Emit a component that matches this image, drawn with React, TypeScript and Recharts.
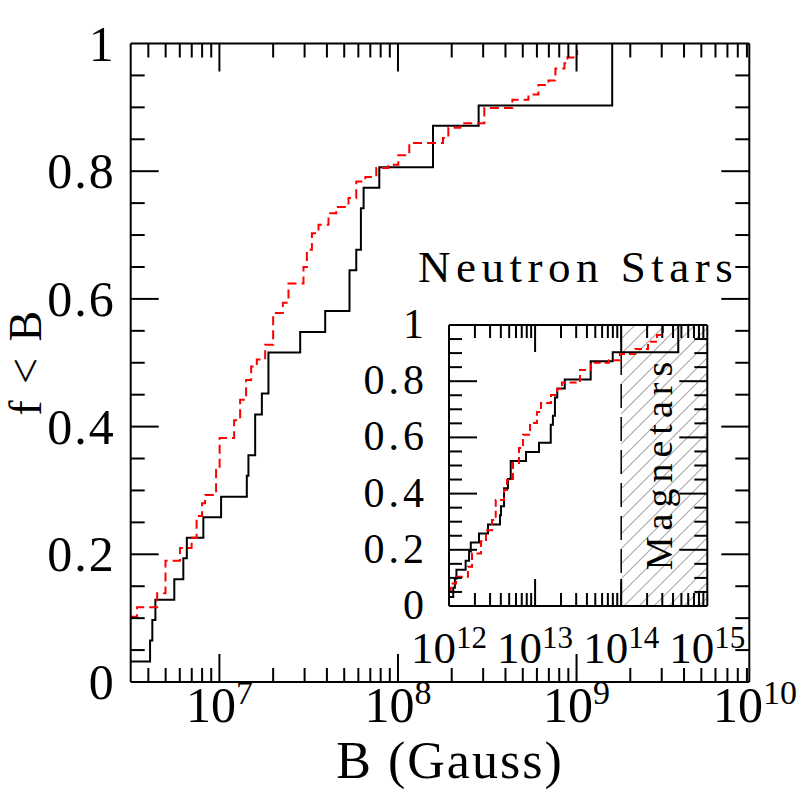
import { LineChart, Line, XAxis, YAxis, ReferenceArea, ReferenceLine } from "recharts";

const FONT = "'Liberation Serif', 'DejaVu Serif', serif";

// main panel: white dwarfs, B in Gauss
const wdBlackB = [3.19e6, 4.09e6, 4.21e6, 4.38e6, 5.59e6, 6.28e6, 6.57e6, 8.13e6, 1.022e7, 1.424e7, 1.454e7, 1.586e7, 1.729e7, 1.882e7, 2.834e7, 3.913e7, 5.353e7, 5.84e7, 6.2e7, 6.42e7, 7.86e7, 1.571e8, 2.83e8, 1.584e9];
const wdBlackF = [0.032, 0.065, 0.097, 0.129, 0.161, 0.194, 0.226, 0.258, 0.29, 0.323, 0.355, 0.419, 0.452, 0.516, 0.548, 0.581, 0.645, 0.677, 0.742, 0.774, 0.806, 0.871, 0.903, 1.0];

const wdRedB = [3.19e6, 3.46e6, 4.48e6, 4.99e6, 6.02e6, 6.99e6, 7.45e6, 8.0e6, 8.31e6, 9.58e6, 1.003e7, 1.209e7, 1.306e7, 1.411e7, 1.506e7, 1.62e7, 1.804e7, 2.0e7, 2.267e7, 2.437e7, 2.957e7, 3.09e7, 3.296e7, 3.589e7, 4.083e7, 4.51e7, 5.285e7, 5.84e7, 6.56e7, 7.56e7, 8.82e7, 1.004e8, 1.157e8, 1.787e8, 1.914e8, 2.235e8, 3.046e8, 4.372e8, 5.375e8, 6.116e8, 6.959e8, 7.616e8, 8.555e8, 8.89e8, 1.008e9];
const wdRedF = [0.102, 0.117, 0.139, 0.19, 0.21, 0.226, 0.26, 0.28, 0.293, 0.332, 0.382, 0.41, 0.442, 0.473, 0.494, 0.505, 0.528, 0.578, 0.594, 0.624, 0.65, 0.677, 0.703, 0.716, 0.734, 0.744, 0.758, 0.784, 0.791, 0.805, 0.81, 0.825, 0.844, 0.852, 0.868, 0.875, 0.899, 0.912, 0.92, 0.935, 0.942, 0.961, 0.969, 0.978, 0.99, 1.0].slice(0, 45);

// inset: neutron stars
const nsBlackB = [1.0e12, 1.12e12, 1.17e12, 1.22e12, 1.56e12, 1.71e12, 1.79e12, 2.23e12, 2.84e12, 3.91e12, 4.02e12, 4.36e12, 4.84e12, 5.21e12, 7.84e12, 1.11e13, 1.52e13, 1.61e13, 1.7e13, 1.81e13, 2.21e13, 4.42e13, 7.97e13, 4.6e14];
const nsBlackF = [0.032, 0.065, 0.097, 0.129, 0.161, 0.194, 0.226, 0.258, 0.29, 0.323, 0.355, 0.419, 0.452, 0.516, 0.548, 0.581, 0.645, 0.677, 0.742, 0.774, 0.806, 0.871, 0.903, 1.0];

const nsRedB = [1.0e12, 1.05e12, 1.21e12, 1.66e12, 1.85e12, 2.35e12, 2.69e12, 3.16e12, 3.49e12, 4.35e12, 4.72e12, 5.54e12, 6.5e12, 7.23e12, 8.72e12, 1.05e13, 1.17e13, 1.53e13, 1.8e13, 2.05e13, 3.32e13, 4.45e13, 7.21e13, 9.68e13, 1.45e14, 2.05e14, 2.6e14, 3.06e14];
const nsRedF = [0.05, 0.08, 0.104, 0.14, 0.187, 0.23, 0.27, 0.306, 0.377, 0.413, 0.448, 0.509, 0.562, 0.609, 0.651, 0.69, 0.722, 0.751, 0.772, 0.795, 0.84, 0.866, 0.875, 0.897, 0.915, 0.94, 0.964, 1.0];

const wdTicks = [4e6, 5e6, 6e6, 7e6, 8e6, 9e6, 1e7, 2e7, 3e7, 4e7, 5e7, 6e7, 7e7, 8e7, 9e7, 1e8, 2e8, 3e8, 4e8, 5e8, 6e8, 7e8, 8e8, 9e8, 1e9, 2e9, 3e9, 4e9, 5e9, 6e9, 7e9, 8e9, 9e9, 1e10];
const nsTicks = [1e12, 2e12, 3e12, 4e12, 5e12, 6e12, 7e12, 8e12, 9e12, 1e13, 2e13, 3e13, 4e13, 5e13, 6e13, 7e13, 8e13, 9e13, 1e14, 2e14, 3e14, 4e14, 5e14, 6e14, 7e14, 8e14, 9e14, 1e15];
const fTicks = [0, 0.05, 0.1, 0.15, 0.2, 0.25, 0.3, 0.35, 0.4, 0.45, 0.5, 0.55, 0.6, 0.65, 0.7, 0.75, 0.8, 0.85, 0.9, 0.95, 1];
const fLabels = ["0", "0.2", "0.4", "0.6", "0.8", "1"];

const WD_DOMAIN = [3.186e6, 9.28e9];
const NS_DOMAIN = [1e12, 1e15];

const wdBlack = wdBlackB.map((b, i) => ({ b, f: wdBlackF[i] }));
const wdRed = wdRedB.map((b, i) => ({ b, f: wdRedF[i] }));
const nsBlack = nsBlackB.map((b, i) => ({ b, f: nsBlackF[i] }));
const nsRed = nsRedB.map((b, i) => ({ b, f: nsRedF[i] }));

const isDecade = (v: number) => Math.abs(Math.log10(v) - Math.round(Math.log10(v))) < 1e-6;
const isMajorF = (v: number) => Math.abs(v * 5 - Math.round(v * 5)) < 1e-6;

function logTick(cfg: { side: "bottom" | "top"; big: number; small: number; max: number; min: number; fs?: number; sup?: number; base?: number; supDy?: number }) {
  return (props: any) => {
    const { x, y, payload } = props;
    const v = payload.value as number;
    const major = isDecade(v);
    const len = major ? cfg.big : cfg.small;
    const dir = cfg.side === "bottom" ? -1 : 1;
    const inside = v > cfg.min * 1.0001 && v < cfg.max * 0.9999;
    return (
      <g>
        {inside && <line x1={x} x2={x} y1={y} y2={y + dir * len} stroke="#000" strokeWidth={2} />}
        {cfg.fs && major && (
          <text x={x} y={y + (cfg.base ?? 0)} textAnchor="middle" fontFamily={FONT} fontSize={cfg.fs} fill="#000">
            10<tspan dy={cfg.supDy} fontSize={cfg.sup}>{Math.round(Math.log10(v))}</tspan>
          </text>
        )}
      </g>
    );
  };
}

function fTick(cfg: { side: "left" | "right"; big: number; small: number; fs?: number; gap?: number; dy?: number; ls?: number }) {
  return (props: any) => {
    const { x, y, payload } = props;
    const v = payload.value as number;
    const major = isMajorF(v);
    const len = major ? cfg.big : cfg.small;
    const dir = cfg.side === "left" ? 1 : -1;
    const inside = v > 0.0001 && v < 0.9999;
    return (
      <g>
        {inside && <line x1={x} x2={x + dir * len} y1={y} y2={y} stroke="#000" strokeWidth={2} />}
        {cfg.fs && major && (
          <text x={x - (cfg.gap ?? 0)} y={y + (cfg.dy ?? 0)} textAnchor="end" fontFamily={FONT} fontSize={cfg.fs} letterSpacing={cfg.ls ?? 0} fill="#000">
            {fLabels[Math.round(v * 5)]}
          </text>
        )}
      </g>
    );
  };
}

const axisCommon = { tickSize: 0, tickMargin: 0, interval: 0 as const, allowDataOverflow: true };
const frame = { stroke: "#000", strokeWidth: 2 };

export default function App() {
  return (
    <div style={{ position: "fixed", left: 0, top: 0, width: 797, height: 797, background: "#fff" }}>
      <div style={{ position: "absolute", left: 0, top: 0 }}>
        <LineChart width={797} height={797} margin={{ top: 42.5, right: 46.7, bottom: 114, left: 129.7 }}>
          <XAxis xAxisId="b" dataKey="b" type="number" scale="log" domain={WD_DOMAIN} ticks={wdTicks} height={1} {...axisCommon}
            axisLine={frame} tickLine={false}
            tick={logTick({ side: "bottom", big: 28, small: 14, min: WD_DOMAIN[0], max: WD_DOMAIN[1], fs: 50, sup: 34, base: 40, supDy: -18 })} />
          <XAxis xAxisId="t" orientation="top" dataKey="b" type="number" scale="log" domain={WD_DOMAIN} ticks={wdTicks} height={1} {...axisCommon}
            axisLine={frame} tickLine={false}
            tick={logTick({ side: "top", big: 28, small: 14, min: WD_DOMAIN[0], max: WD_DOMAIN[1] })} />
          <YAxis yAxisId="l" dataKey="f" type="number" domain={[0, 1]} ticks={fTicks} width={1} {...axisCommon}
            axisLine={frame} tickLine={false}
            tick={fTick({ side: "left", big: 28, small: 14, fs: 50, gap: 15, dy: 17, ls: 2 })} />
          <YAxis yAxisId="r" orientation="right" dataKey="f" type="number" domain={[0, 1]} ticks={fTicks} width={1} {...axisCommon}
            axisLine={frame} tickLine={false}
            tick={fTick({ side: "right", big: 28, small: 14 })} />
          <Line xAxisId="b" yAxisId="l" data={wdBlack} dataKey="f" type="stepAfter" stroke="#000" strokeWidth={2} dot={false} isAnimationActive={false} />
          <Line xAxisId="b" yAxisId="l" data={wdRed} dataKey="f" type="stepAfter" stroke="#ff0000" strokeWidth={2} strokeDasharray="9 5" dot={false} isAnimationActive={false} />
        </LineChart>
      </div>
      <div style={{ position: "absolute", left: 0, top: 0 }}>
        <LineChart width={797} height={797} margin={{ top: 324, right: 88.7, bottom: 190, left: 448 }}>
          <defs>
            <pattern id="hatch" width="10.6" height="10.6" patternUnits="userSpaceOnUse" patternTransform="rotate(45)">
              <line x1={0} y1={0} x2={0} y2={10.6} stroke="#555" strokeWidth={1} />
            </pattern>
          </defs>
          <XAxis xAxisId="b" dataKey="b" type="number" scale="log" domain={NS_DOMAIN} ticks={nsTicks} height={1} {...axisCommon}
            axisLine={frame} tickLine={false}
            tick={logTick({ side: "bottom", big: 27, small: 13, min: NS_DOMAIN[0], max: NS_DOMAIN[1], fs: 45, sup: 31, base: 57, supDy: -15 })} />
          <XAxis xAxisId="t" orientation="top" dataKey="b" type="number" scale="log" domain={NS_DOMAIN} ticks={nsTicks} height={1} {...axisCommon}
            axisLine={frame} tickLine={false}
            tick={logTick({ side: "top", big: 27, small: 13, min: NS_DOMAIN[0], max: NS_DOMAIN[1] })} />
          <YAxis yAxisId="l" dataKey="f" type="number" domain={[0, 1]} ticks={fTicks} width={1} {...axisCommon}
            axisLine={frame} tickLine={false}
            tick={fTick({ side: "left", big: 28, small: 13, fs: 42, gap: 21, dy: 13, ls: 4 })} />
          <YAxis yAxisId="r" orientation="right" dataKey="f" type="number" domain={[0, 1]} ticks={fTicks} width={1} {...axisCommon}
            axisLine={frame} tickLine={false}
            tick={fTick({ side: "right", big: 28, small: 13 })} />
          <ReferenceArea xAxisId="b" yAxisId="l" x1={1e14} x2={1e15} y1={0} y2={1} fill="url(#hatch)" fillOpacity={1} stroke="none" ifOverflow="hidden" />
          <ReferenceLine xAxisId="b" yAxisId="l" x={1e14} stroke="#000" strokeWidth={1.5} strokeDasharray="24 9" />
          <Line xAxisId="b" yAxisId="l" data={nsBlack} dataKey="f" type="stepAfter" stroke="#000" strokeWidth={2} dot={false} isAnimationActive={false} />
          <Line xAxisId="b" yAxisId="l" data={nsRed} dataKey="f" type="stepAfter" stroke="#ff0000" strokeWidth={2} strokeDasharray="7 4" dot={false} isAnimationActive={false} />
        </LineChart>
      </div>
      <svg width={797} height={797} style={{ position: "absolute", left: 0, top: 0, pointerEvents: "none" }}>
        <text x={450} y={778} textAnchor="middle" fontFamily={FONT} fontSize={52} letterSpacing={2}>B (Gauss)</text>
        <text transform="translate(41,362) rotate(-90)" textAnchor="middle" fontFamily={FONT} fontSize={46} letterSpacing={2.5}>f &lt; B</text>
        <text x={418} y={282} fontFamily={FONT} fontSize={45} letterSpacing={5.5}>Neutron Stars</text>
        <text transform="translate(672,463) rotate(-90)" textAnchor="middle" fontFamily={FONT} fontSize={38} letterSpacing={6}>Magnetars</text>
      </svg>
    </div>
  );
}
